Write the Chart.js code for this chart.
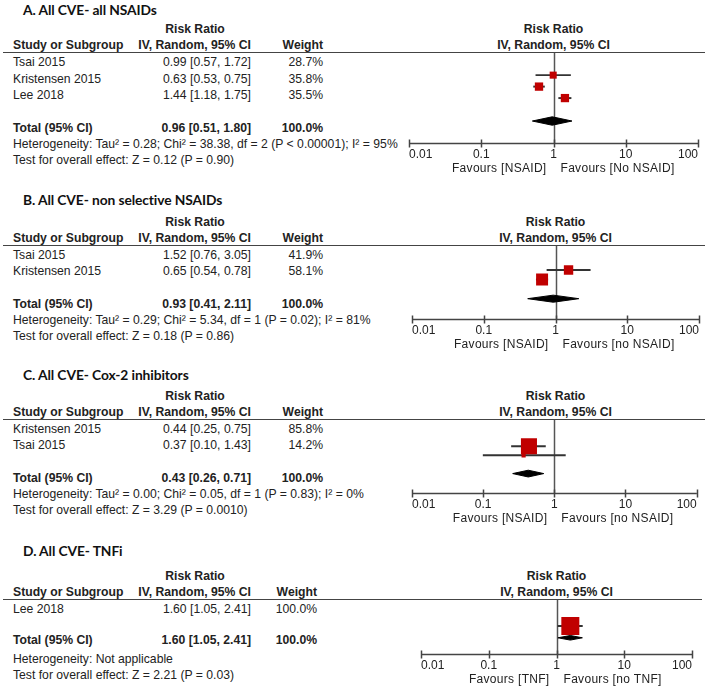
<!DOCTYPE html>
<html>
<head>
<meta charset="utf-8">
<script src="https://cdn.jsdelivr.net/npm/chart.js@4.4.1/dist/chart.umd.min.js"></script>
<style>
html, body { margin: 0; padding: 0; background: #fff; }
#page { position: relative; width: 708px; height: 691px; overflow: hidden;
  font-family: "Liberation Sans", Arial, sans-serif; font-size: 12.2px; color: #222; }
.t { position: absolute; white-space: nowrap; line-height: 14px; }
.b { font-weight: bold; }
.title { font-family: Lato, "Open Sans", sans-serif; font-weight: bold; font-size: 13.8px; letter-spacing: -0.1px; color: #111; }
.rule { position: absolute; height: 0; border-top: 1.5px solid #444; }
canvas { position: absolute; }
</style>
</head>
<body>
<div id="page"></div>
<script>
// axis ticks
const tickValues = [0.01, 0.1, 1, 10, 100];
const tickLabels = ['0.01', '0.1', '1', '10', '100'];

const titles = ['A. All CVE- all NSAIDs', 'B. All CVE- non selective NSAIDs', 'C. All CVE- Cox-2 inhibitors', 'D. All CVE- TNFi'];

// A
const studiesA = ['Tsai 2015', 'Kristensen 2015', 'Lee 2018'];
const rrA = [0.99, 0.63, 1.44];
const lowA = [0.57, 0.53, 1.18];
const highA = [1.72, 0.75, 1.75];
const weightA = [28.7, 35.8, 35.5];
const totalA = [0.96, 0.51, 1.80];

// B
const studiesB = ['Tsai 2015', 'Kristensen 2015'];
const rrB = [1.52, 0.65];
const lowB = [0.76, 0.54];
const highB = [3.05, 0.78];
const weightB = [41.9, 58.1];
const totalB = [0.93, 0.41, 2.11];

// C
const studiesC = ['Kristensen 2015', 'Tsai 2015'];
const rrC = [0.44, 0.37];
const lowC = [0.25, 0.10];
const highC = [0.75, 1.43];
const weightC = [85.8, 14.2];
const totalC = [0.43, 0.26, 0.71];

// D
const studiesD = ['Lee 2018'];
const rrD = [1.60];
const lowD = [1.05];
const highD = [2.41];
const weightD = [100.0];
const totalD = [1.60, 1.05, 2.41];

const heterogeneity = [
  'Heterogeneity: Tau² = 0.28; Chi² = 38.38, df = 2 (P < 0.00001); I² = 95%',
  'Heterogeneity: Tau² = 0.29; Chi² = 5.34, df = 1 (P = 0.02); I² = 81%',
  'Heterogeneity: Tau² = 0.00; Chi² = 0.05, df = 1 (P = 0.83); I² = 0%',
  'Heterogeneity: Not applicable'
];
const overallEffect = [
  'Test for overall effect: Z = 0.12 (P = 0.90)',
  'Test for overall effect: Z = 0.18 (P = 0.86)',
  'Test for overall effect: Z = 3.29 (P = 0.0010)',
  'Test for overall effect: Z = 2.21 (P = 0.03)'
];
const favoursLeft = ['Favours [NSAID]', 'Favours [NSAID]', 'Favours [NSAID]', 'Favours [TNF]'];
const favoursRight = ['Favours [No NSAID]', 'Favours [no NSAID]', 'Favours [no NSAID]', 'Favours [no TNF]'];

const panels = [
  { studies: studiesA, rr: rrA, low: lowA, high: highA, weight: weightA, total: totalA },
  { studies: studiesB, rr: rrB, low: lowB, high: highB, weight: weightB, total: totalB },
  { studies: studiesC, rr: rrC, low: lowC, high: highC, weight: weightC, total: totalC },
  { studies: studiesD, rr: rrD, low: lowD, high: highD, weight: weightD, total: totalD }
];

// page positions of each panel
const layout = [
  { titleY: 10, rrY: 29, hdrY: 45, lineY: 53, axisY: 143, axisL: 409, axisR: 698, hetY: 144, weightX: 323 },
  { titleY: 200, rrY: 222, hdrY: 238, lineY: 246, axisY: 319, axisL: 412, axisR: 699, hetY: 320, weightX: 323 },
  { titleY: 375, rrY: 396, hdrY: 412, lineY: 420, axisY: 493, axisL: 412, axisR: 699, hetY: 494, weightX: 323 },
  { titleY: 551, rrY: 576, hdrY: 592, lineY: 600, axisY: 654, axisL: 421, axisR: 692, hetY: 659, weightX: 317 }
];

const page = document.getElementById('page');
const Y_MIN = -0.5;
const CANVAS_L = 380;
const BOTTOM_PAD = 34;

function addText(txt, x, y, cls, align) {
  const d = document.createElement('div');
  d.className = 't ' + (cls || '');
  d.textContent = txt;
  d.style.top = (y - 7) + 'px';
  if (align === 'right') {
    d.style.right = (708 - x) + 'px';
  } else if (align === 'center') {
    d.style.left = x + 'px';
    d.style.transform = 'translateX(-50%)';
  } else {
    d.style.left = x + 'px';
  }
  page.appendChild(d);
}

const fmt = (v, l, h) => v.toFixed(2) + ' [' + l.toFixed(2) + ', ' + h.toFixed(2) + ']';
const squareSide = w => 18 * Math.pow(w / 100, 0.75);

const forestAxis = {
  id: 'forestAxis',
  beforeDatasetsDraw(chart) {
    const { ctx, chartArea, scales: { x } } = chart;
    const x1 = Math.round(x.getPixelForValue(1)) + 0.5;
    ctx.save();
    ctx.strokeStyle = '#555';
    ctx.lineWidth = 1.5;
    ctx.beginPath();
    ctx.moveTo(x1, 0);
    ctx.lineTo(x1, chartArea.bottom);
    ctx.stroke();
    ctx.restore();
  },
  afterDraw(chart, args, opts) {
    const { ctx, chartArea, scales: { x } } = chart;
    const yb = Math.round(chartArea.bottom) + 0.5;
    ctx.save();
    ctx.strokeStyle = '#444';
    ctx.lineWidth = 1.5;
    ctx.beginPath();
    ctx.moveTo(x.getPixelForValue(tickValues[0]), yb);
    ctx.lineTo(x.getPixelForValue(tickValues[tickValues.length - 1]), yb);
    tickValues.forEach(v => {
      const px = Math.round(x.getPixelForValue(v)) + 0.5;
      ctx.moveTo(px, yb - 4);
      ctx.lineTo(px, yb + 4);
    });
    ctx.stroke();
    ctx.fillStyle = '#222';
    ctx.font = '12px "Liberation Sans", Arial, sans-serif';
    ctx.textBaseline = 'middle';
    tickLabels.forEach((t, i) => {
      ctx.textAlign = i === 0 ? 'left' : (i === tickLabels.length - 1 ? 'right' : 'center');
      ctx.fillText(t, x.getPixelForValue(tickValues[i]), yb + 11);
    });
    const x1 = x.getPixelForValue(1);
    ctx.letterSpacing = '0.3px';
    ctx.textAlign = 'right';
    ctx.fillText(opts.left, x1 - 7, yb + 25);
    ctx.textAlign = 'left';
    ctx.fillText(opts.right, x1 + 7, yb + 25);
    ctx.restore();
  }
};

panels.forEach((p, k) => {
  const L = layout[k];
  const n = p.studies.length;
  const yMax = n + 2;
  const step = (L.axisY - L.lineY) / (yMax - Y_MIN);
  const rowY = i => L.lineY + (i - Y_MIN) * step;

  // left table
  addText(titles[k], 23, L.titleY, 'title');
  addText('Risk Ratio', 195, L.rrY, 'b', 'center');
  addText('Study or Subgroup', 13, L.hdrY, 'b');
  addText('IV, Random, 95% CI', 251, L.hdrY, 'b', 'right');
  addText('Weight', L.weightX, L.hdrY, 'b', 'right');
  const nullX = (L.axisL + L.axisR) / 2;
  addText('Risk Ratio', nullX, L.rrY, 'b', 'center');
  addText('IV, Random, 95% CI', nullX, L.hdrY, 'b', 'center');

  const rule = document.createElement('div');
  rule.className = 'rule';
  rule.style.left = '3px';
  rule.style.width = (k === 3 ? 699 : 702) + 'px';
  rule.style.top = (L.lineY - 1) + 'px';
  page.appendChild(rule);

  p.studies.forEach((s, i) => {
    const y = rowY(i) + 1;
    addText(s, 13, y);
    addText(fmt(p.rr[i], p.low[i], p.high[i]), 251, y, '', 'right');
    addText(p.weight[i].toFixed(1) + '%', L.weightX, y, '', 'right');
  });
  const ty = rowY(n + 1) + 1;
  addText('Total (95% CI)', 13, ty, 'b');
  addText(fmt(p.total[0], p.total[1], p.total[2]), 251, ty, 'b', 'right');
  addText('100.0%', L.weightX, ty, 'b', 'right');
  addText(heterogeneity[k], 13, L.hetY);
  addText(overallEffect[k], 13, L.hetY + 16);

  // plot
  const cv = document.createElement('canvas');
  const h = L.axisY - L.lineY + BOTTOM_PAD;
  cv.width = 708 - CANVAS_L;
  cv.height = h;
  cv.style.left = CANVAS_L + 'px';
  cv.style.top = L.lineY + 'px';
  cv.style.width = (708 - CANVAS_L) + 'px';
  cv.style.height = h + 'px';
  page.appendChild(cv);

  const dh = 6 / step; // diamond half height
  const totRow = n + 1;

  new Chart(cv, {
    type: 'scatter',
    data: {
      datasets: [
        {
          type: 'scatter',
          data: p.rr.map((v, i) => ({ x: v, y: i })),
          pointStyle: 'rect',
          pointRadius: c => squareSide(p.weight[c.dataIndex]) / Math.SQRT2,
          pointHoverRadius: c => squareSide(p.weight[c.dataIndex]) / Math.SQRT2,
          backgroundColor: '#c00000',
          borderWidth: 0
        },
        {
          type: 'bar',
          indexAxis: 'y',
          data: p.low.map((l, i) => ({ y: i, x: [l, p.high[i]] })),
          backgroundColor: '#333',
          barThickness: 1.3,
          borderWidth: 0
        },
        {
          type: 'line',
          data: [{ x: p.total[1], y: totRow }, { x: p.total[0], y: totRow - dh }, { x: p.total[2], y: totRow }],
          borderColor: '#000',
          borderWidth: 1,
          pointRadius: 0,
          tension: 0,
          fill: false
        },
        {
          type: 'line',
          data: [{ x: p.total[1], y: totRow }, { x: p.total[0], y: totRow + dh }, { x: p.total[2], y: totRow }],
          borderColor: '#000',
          backgroundColor: '#000',
          borderWidth: 1,
          pointRadius: 0,
          tension: 0,
          fill: '-1'
        }
      ]
    },
    options: {
      responsive: false,
      animation: false,
      layout: { padding: { left: L.axisL - CANVAS_L, right: 708 - L.axisR, top: 0, bottom: BOTTOM_PAD } },
      scales: {
        x: { type: 'logarithmic', min: 0.01, max: 100, display: false },
        y: { type: 'linear', min: Y_MIN, max: yMax, reverse: true, display: false }
      },
      plugins: {
        legend: { display: false },
        tooltip: { enabled: false },
        forestAxis: { left: favoursLeft[k], right: favoursRight[k] }
      }
    },
    plugins: [forestAxis]
  });
});
</script>
</body>
</html>
